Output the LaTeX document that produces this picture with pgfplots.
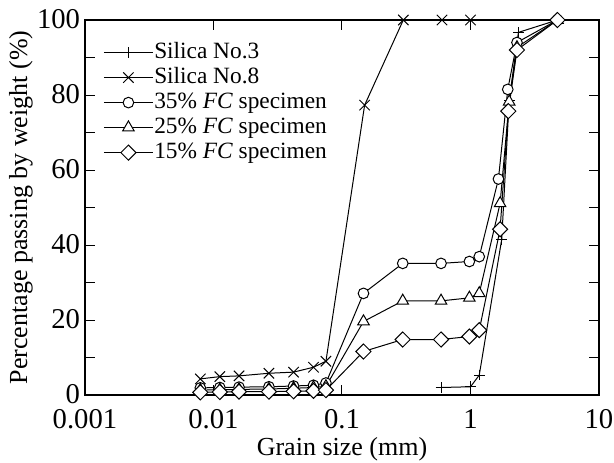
\documentclass[border=0pt]{standalone}
\usepackage{fontspec}
\setmainfont{Liberation Serif}
\usepackage{pgfplots}
\pgfplotsset{compat=1.18}
\begin{document}
\begin{tikzpicture}
\begin{axis}[
 name=ax,
 scale only axis,
 width=385.5pt, height=281.25pt,
 xmode=log, xmin=0.001, xmax=10, ymin=0, ymax=100,
 xtick={0.001,0.01,0.1,1,10}, xticklabels={0.001,0.01,0.1,1,10},
 xminorticks=false,
 ytick={0,20,40,60,80,100}, yticklabels={0,20,40,60,80,100},
 minor ytick={10,30,50,70,90},
 tick align=inside,
 major tick length=7.5pt, minor tick length=7.5pt,
 every tick/.style={black, line width=0.75pt},
 axis line style={line width=1pt},
 ticklabel style={font=\fontsize{21.5}{21.5}\selectfont, inner sep=0pt},
 xticklabel style={anchor=north, yshift=-10.5pt},
 yticklabel style={anchor=east, xshift=-3.5pt, yshift=0.75pt},
 xlabel={Grain size (mm)}, ylabel={Percentage passing by weight (\%)},
 label style={font=\fontsize{19.5}{19.5}\selectfont},
 xlabel style={at={(axis description cs:0.5,-0.16)}, anchor=base},
 ylabel style={at={(axis description cs:-0.1128,0.5)}, anchor=base},
 clip=false,
 legend style={at={(axis description cs:0,1)}, anchor=north west, xshift=13.5pt, yshift=-15.5pt,
   draw=none, fill=none, inner sep=0pt, row sep=1.25pt,
   font=\fontsize{17.5}{17.5}\selectfont,
   nodes={inner sep=0.5pt, text height=12.5pt, text depth=4pt}},
 legend cell align=left,
 legend image code/.code={\draw[#1,mark repeat=2,mark phase=2] plot coordinates {(0pt,0pt) (18.5pt,0pt) (37pt,0pt)};},
 every axis plot/.append style={black, line width=0.75pt},
]
\addplot[mark=+, mark size=4pt, mark options={solid}] coordinates {(0.59,2.0)(1.0,2.2)(1.17,5.3)(1.75,41.5)(2.0,78.5)(2.36,96.7)(4.75,100)};
\addlegendentry{Silica No.3}
\addplot[mark=x, mark size=5.5pt, mark options={solid}] coordinates {(0.0079,4.3)(0.0112,4.9)(0.0158,5.1)(0.027,5.8)(0.042,6.1)(0.06,7.4)(0.075,9.0)(0.15,77.3)(0.3,100)(0.6,100)(1.0,100)};
\addlegendentry{Silica No.8}
\addplot[mark=*, mark size=4pt, mark options={solid, fill=white}] coordinates {(0.0079,1.9)(0.0112,2.0)(0.0158,2.1)(0.027,2.2)(0.042,2.4)(0.06,2.6)(0.075,3.2)(0.147,27.1)(0.297,35.1)(0.59,35.1)(0.98,35.6)(1.17,36.9)(1.65,57.6)(1.95,81.5)(2.3,94.0)(4.75,100)};
\addlegendentry{35\% \textit{FC} specimen}
\addplot[mark=triangle*, mark size=5pt, mark options={solid, fill=white}] coordinates {(0.0079,1.3)(0.0112,1.4)(0.0158,1.5)(0.027,1.6)(0.042,1.8)(0.06,2.0)(0.075,2.3)(0.147,19.6)(0.297,25.1)(0.59,25.1)(0.98,25.9)(1.17,27.1)(1.70,51.1)(2.0,78.2)(2.3,92.7)(4.75,100)};
\addlegendentry{25\% \textit{FC} specimen}
\addplot[mark=square*, mark size=4pt, mark options={solid, fill=white, rotate=45}] coordinates {(0.0079,0.7)(0.0112,0.8)(0.0158,0.9)(0.027,0.9)(0.042,1.0)(0.06,1.1)(0.075,1.3)(0.147,11.6)(0.297,14.8)(0.59,14.8)(0.98,15.6)(1.17,17.3)(1.70,44.2)(1.97,75.7)(2.3,92.0)(4.75,100)};
\addlegendentry{15\% \textit{FC} specimen}
\end{axis}
\pgfresetboundingbox
\path ([shift={(-63.75pt,-50.25pt)}]ax.south west) rectangle ([shift={(11.25pt,15pt)}]ax.north east);
\end{tikzpicture}
\end{document}
